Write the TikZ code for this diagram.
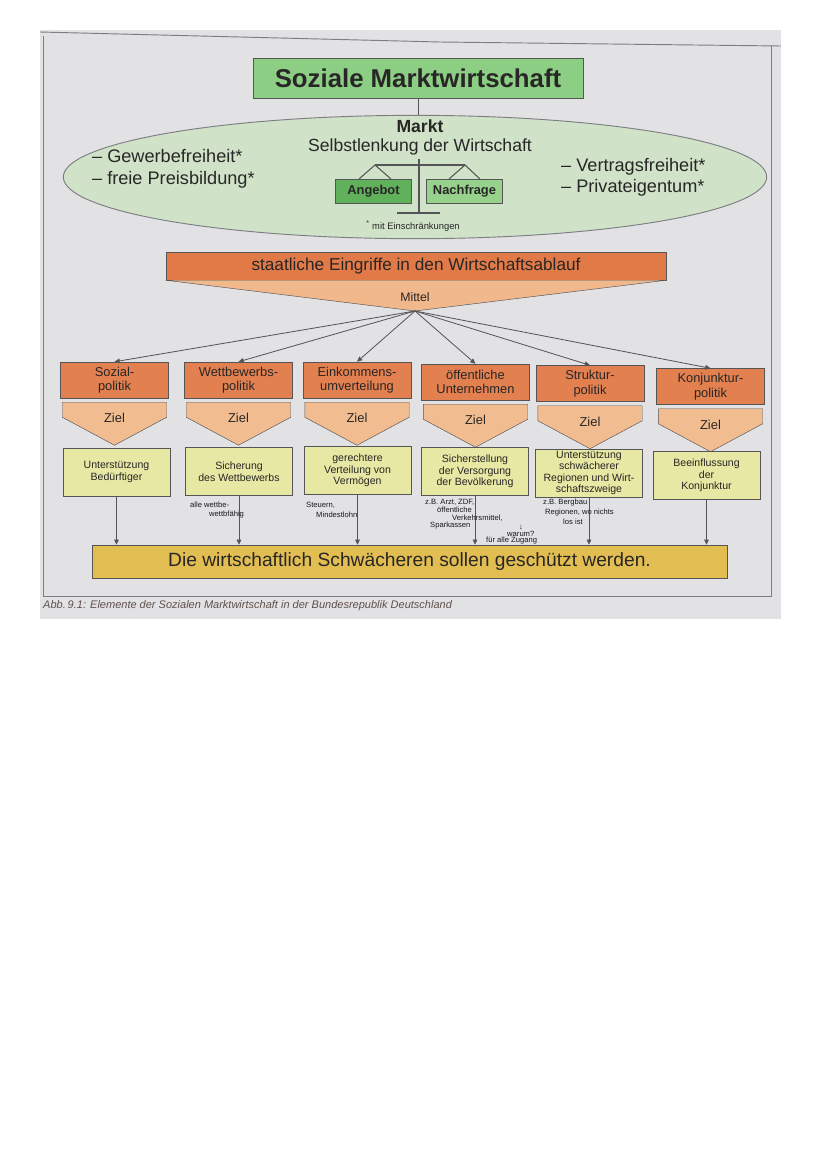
\documentclass[tikz,border=0pt]{standalone}
\usepackage{fontspec}
\setmainfont{Liberation Sans}
\usetikzlibrary{positioning,calc,arrows.meta,shapes.geometric}

\definecolor{pagegray}{RGB}{226,226,229}
\definecolor{framegray}{RGB}{125,125,130}
\definecolor{linegray}{RGB}{85,85,88}
\definecolor{titlegreen}{RGB}{140,206,132}
\definecolor{marktgreen}{RGB}{208,227,200}
\definecolor{angebotgreen}{RGB}{96,176,92}
\definecolor{nachfragegreen}{RGB}{150,210,140}
\definecolor{eingriffred}{RGB}{226,122,72}
\definecolor{mittelorange}{RGB}{241,184,140}
\definecolor{politikorange}{RGB}{226,128,80}
\definecolor{zielorange}{RGB}{242,188,145}
\definecolor{zielyellow}{RGB}{230,232,164}
\definecolor{schutzgold}{RGB}{226,190,82}
\definecolor{textdark}{RGB}{40,38,38}
\definecolor{captionbrown}{RGB}{95,80,75}
\definecolor{pencil}{RGB}{25,25,30}

\begin{document}
\begin{tikzpicture}[
    x=0.03cm, y=-0.03cm,
    titlebox/.style={rectangle, draw=linegray, fill=titlegreen, minimum width=9.9cm, minimum height=1.2cm,
                     font=\bfseries\fontsize{22}{24}\selectfont, text=textdark},
    panbox/.style={rectangle, draw=linegray, thick, minimum width=2.3cm, minimum height=0.72cm,
                   font=\bfseries\fontsize{11}{12}\selectfont, text=textdark},
    politik/.style={rectangle, draw=linegray, fill=politikorange, minimum width=3.24cm, minimum height=1.08cm,
                    align=center, inner sep=1pt, font=\fontsize{11}{12.5}\selectfont, text=textdark},
    zielshape/.style={draw=linegray, fill=zielorange},
    ziel/.style={font=\fontsize{11}{12}\selectfont, text=textdark, inner sep=1pt},
    goal/.style={rectangle, draw=linegray, fill=zielyellow, minimum width=3.2cm, minimum height=1.44cm,
                 align=center, inner sep=1pt, font=\fontsize{9}{10}\selectfont, text=textdark},
    arrow/.style={-{Triangle[length=4.5pt,width=4pt]}, draw=linegray, line width=0.7pt},
    note/.style={font=\fontsize{6.5}{7}\selectfont, text=pencil, inner sep=0pt, anchor=west}
]
\useasboundingbox (0,0) rectangle (828,1171);
\fill[white] (0,0) rectangle (828,1171);

% photographed page
\fill[pagegray] (40,30) rectangle (781,619);
\draw[framegray, line width=0.8pt] (40,32) -- (440,42) -- (781,46);
\draw[framegray, line width=0.8pt] (43,36) -- (43,596) -- (771,596) -- (771,46);

% Title
\node[titlebox] (title) at (418,78) {Soziale Marktwirtschaft};

% Markt
\node[ellipse, draw=framegray, fill=marktgreen, line width=0.8pt, minimum width=21.1cm, minimum height=3.7cm] (markt) at (415,177) {};
\draw[linegray, line width=0.8pt] (title.south) -- (title.south |- markt.north);
\node[font=\bfseries\fontsize{15}{16}\selectfont, text=textdark] (markttitle) at (420,126) {Markt};
\node[font=\fontsize{15}{16}\selectfont, text=textdark] (selbst) at (420,147) {Selbstlenkung der Wirtschaft};
\node[anchor=west, align=left, font=\fontsize{15.5}{19}\selectfont, text=textdark] (freiheitlinks) at (88,169) {– Gewerbefreiheit*\\– freie Preisbildung*};
\node[anchor=west, align=left, font=\fontsize{15.5}{18}\selectfont, text=textdark] (freiheitrechts) at (557,177) {– Vertragsfreiheit*\\– Privateigentum*};

% Waage
\coordinate (beamL) at (375,165);
\coordinate (beamR) at (465,165);
\draw[linegray, line width=0.9pt] (419,159) -- (419,213);
\draw[linegray, line width=0.9pt] (397,213) -- (440,213);
\draw[linegray, line width=0.9pt] (beamL) -- (beamR);
\node[panbox, fill=angebotgreen] (angebot) at (373.5,191) {Angebot};
\node[panbox, fill=nachfragegreen] (nachfrage) at (464.5,191) {Nachfrage};
\draw[linegray, line width=0.9pt] (359,179) -- (beamL) -- (391,179);
\draw[linegray, line width=0.9pt] (449,179) -- (beamR) -- (480,179);
\node[font=\fontsize{8}{9}\selectfont, text=textdark] (fussnote) at (413,226) {\textsuperscript{*} mit Einschränkungen};

% staatliche Eingriffe
\node[rectangle, draw=linegray, fill=eingriffred, minimum width=15cm, minimum height=0.84cm,
      font=\fontsize{14.7}{16}\selectfont, text=textdark] (staat) at (416,266) {staatliche Eingriffe in den Wirtschaftsablauf};
\coordinate (mittelspitze) at (415,311);
\draw[linegray, fill=mittelorange] (staat.south west) -- (staat.south east) -- (mittelspitze) -- cycle;
\node[font=\fontsize{10.5}{12}\selectfont, text=textdark] (mittel) at (415,297) {Mittel};

% Politikbereiche
\node[politik] (sozial) at (114.5,380) {Sozial-\\politik};
\node[politik] (wettbewerb) at (238.5,380) {Wettbewerbs-\\politik};
\node[politik] (einkommen) at (357,380) {Einkommens-\\umverteilung};
\node[politik] (oeffentlich) at (475.5,382) {öffentliche\\Unternehmen};
\node[politik] (struktur) at (590,383.5) {Struktur-\\politik};
\node[politik] (konjunktur) at (710.5,386.5) {Konjunktur-\\politik};

\foreach \p in {sozial,wettbewerb,einkommen,oeffentlich,struktur,konjunktur}
    \draw[arrow] (mittelspitze) -- (\p.north);

% Ziel
\foreach \p in {sozial,wettbewerb,einkommen,oeffentlich,struktur,konjunktur} {
    \draw[zielshape] ($(\p.south west)+(2,4)$) -- ($(\p.south east)+(-2,4)$) -- ($(\p.south east)+(-2,19)$)
        -- ($(\p.south)+(0,47)$) -- ($(\p.south west)+(2,19)$) -- cycle;
    \node[ziel] (ziel-\p) at ($(\p.south)+(0,20)$) {Ziel};
}

\node[goal] (beduerftige) at (116.5,472) {Unterstützung\\Bedürftiger};
\node[goal] (sicherung) at (239,471.5) {Sicherung\\des Wettbewerbs};
\node[goal] (verteilung) at (357.5,470.5) {gerechtere\\Verteilung von\\Vermögen};
\node[goal] (versorgung) at (475,471.5) {Sicherstellung\\der Versorgung\\der Bevölkerung};
\node[goal, font=\fontsize{9}{9.6}\selectfont] (regionen) at (589,473) {Unterstützung\\schwächerer\\Regionen und Wirt-\\schaftszweige};
\node[goal] (konjunkturziel) at (706.5,475.5) {Beeinflussung\\der\\Konjunktur};

% Schutz
\node[rectangle, draw=linegray, fill=schutzgold, minimum width=19.05cm, minimum height=0.99cm,
      font=\fontsize{16.4}{18}\selectfont, text=textdark] (schutz) at (409.5,561.5) {Die wirtschaftlich Schwächeren sollen geschützt werden.};
\foreach \g in {beduerftige,sicherung,verteilung,versorgung,regionen,konjunkturziel}
    \draw[arrow] (\g.south) -- (\g.south |- schutz.north);

% handschriftliche Notizen
\node[note] (notiz1a) at (190,505) {alle wettbe-};
\node[note] (notiz1b) at (209,515) {wettbfähig};
\node[note] (notiz2a) at (306,505) {Steuern,};
\node[note] (notiz2b) at (316,515) {Mindestlohn};
\node[note] (notiz3a) at (425,502) {z.B. Arzt, ZDF,};
\node[note] (notiz3b) at (437,510) {öffentliche};
\node[note] (notiz3c) at (452,518) {Verkehrsmittel,};
\node[note] (notiz3d) at (430,526) {Sparkassen};
\node[note] (notiz3e) at (519,527) {↓};
\node[note] (notiz3f) at (507,534) {warum?};
\node[note] (notiz3g) at (486,541) {für alle Zugang};
\node[note] (notiz4a) at (543,503) {z.B. Bergbau};
\node[note] (notiz4b) at (545,513) {Regionen, wo nichts};
\node[note] (notiz4c) at (563,522) {los ist};

% Bildunterschrift
\node[anchor=west, font=\itshape\fontsize{9.4}{10}\selectfont, text=captionbrown, inner sep=0pt] (caption) at (43,606)
    {Abb.\,9.1: Elemente der Sozialen Marktwirtschaft in der Bundesrepublik Deutschland};
\end{tikzpicture}
\end{document}
